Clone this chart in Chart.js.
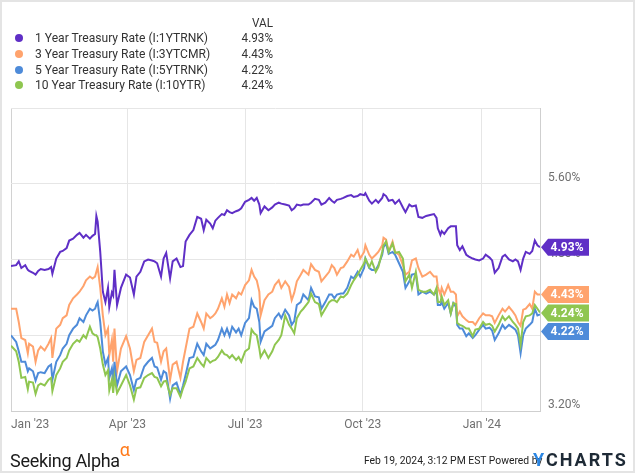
<!DOCTYPE html>
<html>
<head>
<meta charset="utf-8">
<style>
  html, body { margin: 0; padding: 0; background: #fff; }
  #page { position: relative; width: 635px; height: 473px; overflow: hidden; font-family: Roboto, "Noto Sans", sans-serif; }
  #chart { position: absolute; left: 0; top: 0; }
  #frame { position: absolute; left: 0; top: 0; width: 635px; height: 473px; box-sizing: border-box; border: 2px solid #e4e4e4; pointer-events: none; }
  .row { position: absolute; left: 0; height: 16px; line-height: 16px; font-size: 13px; color: #333; white-space: nowrap; }
  .dot { position: absolute; left: 15px; top: 4px; width: 8px; height: 8px; border-radius: 50%; }
  .name { position: absolute; left: 35px; transform: scaleX(0.93); transform-origin: left center; }
  .val { position: absolute; left: 203px; width: 70px; text-align: right; transform: scaleX(0.9); transform-origin: right center; }
  #sa { position: absolute; left: 10px; top: 443px; font-size: 18px; color: #1b1b1b; letter-spacing: -0.3px; white-space: nowrap; }
  #sa sup { color: #ff7a1a; font-size: 18px; position: relative; top: -4px; margin-left: 0px; }
  #stamp { position: absolute; left: 364px; top: 453px; font-size: 11.5px; color: #222; white-space: nowrap; transform: scaleX(0.9); transform-origin: left center; }
  #yc { position: absolute; left: 533px; top: 449px; font-size: 18px; font-weight: 700; letter-spacing: 2px; color: #1e2a36; white-space: nowrap; }
  #yc span { color: #2b86e3; }
</style>
</head>
<body>
<div id="page">
  <canvas id="chart" width="635" height="473"></canvas>
  <div id="legend"></div>
  <div id="sa">Seeking Alpha<sup>α</sup></div>
  <div id="stamp">Feb 19, 2024, 3:12 PM EST Powered by</div>
  <div id="yc"><span>Y</span>CHARTS</div>
  <div id="frame"></div>
</div>

<script src="https://cdn.jsdelivr.net/npm/chart.js@4.4.1/dist/chart.umd.min.js"></script>
<script>
  // x values are calendar days counted from Jan 3, 2023
  const days = [
    0, 4, 6, 8, 11, 13, 14, 17, 19, 21,
    23, 26, 29, 31, 32, 35, 38, 40, 43, 45,
    48, 51, 53, 56, 58, 61, 63, 65, 66, 67,
    69, 71, 73, 75, 76, 78, 79, 80, 82, 85,
    89, 92, 95, 97, 100, 103, 106, 109, 111, 113,
    116, 118, 120, 123, 125, 128, 131, 133, 135, 138,
    141, 144, 147, 149, 151, 154, 156, 158, 160, 163,
    165, 167, 169, 171, 174, 176, 178, 181, 184, 186,
    188, 190, 192, 193, 196, 199, 202, 204, 207, 209,
    212, 215, 217, 219, 221, 224, 226, 230, 232, 235,
    238, 240, 243, 246, 248, 250, 252, 255, 257, 260,
    263, 265, 268, 270, 273, 274, 277, 279, 282, 284,
    287, 288, 290, 292, 295, 297, 300, 303, 305, 308,
    310, 313, 315, 318, 321, 324, 327, 329, 330, 332,
    333, 335, 338, 340, 342, 344, 345, 347, 349, 352,
    354, 357, 359, 362, 365, 367, 370, 372, 374, 377,
    380, 382, 385, 388, 390, 392, 394, 396, 398, 401,
    403, 405, 407, 409
  ]

  const oneYear = [
    4.73, 4.74, 4.78, 4.71, 4.74, 4.69, 4.68, 4.66, 4.64, 4.68,
    4.70, 4.69, 4.70, 4.72, 4.65, 4.81, 4.88, 4.89, 4.92, 5.00,
    5.02, 5.06, 5.08, 5.03, 5.06, 5.02, 5.05, 5.07, 5.26, 5.20,
    4.88, 4.46, 4.35, 4.50, 4.30, 4.45, 4.42, 4.69, 4.32, 4.50,
    4.64, 4.61, 4.43, 4.62, 4.67, 4.78, 4.80, 4.79, 4.78, 4.76,
    4.62, 4.81, 4.87, 4.60, 4.78, 4.81, 4.72, 4.73, 4.99, 5.06,
    5.11, 5.25, 5.23, 5.11, 5.22, 5.18, 5.13, 5.21, 5.24, 5.28,
    5.27, 5.32, 5.30, 5.29, 5.31, 5.32, 5.34, 5.41, 5.43, 5.45,
    5.42, 5.45, 5.38, 5.29, 5.36, 5.32, 5.35, 5.38, 5.40, 5.39,
    5.38, 5.37, 5.32, 5.34, 5.38, 5.37, 5.38, 5.38, 5.40, 5.44,
    5.43, 5.38, 5.40, 5.45, 5.42, 5.40, 5.43, 5.44, 5.45, 5.47,
    5.48, 5.46, 5.47, 5.49, 5.48, 5.50, 5.42, 5.39, 5.43, 5.40,
    5.45, 5.49, 5.47, 5.42, 5.43, 5.39, 5.43, 5.35, 5.30, 5.38,
    5.36, 5.37, 5.25, 5.24, 5.26, 5.27, 5.28, 5.24, 5.13, 5.06,
    5.10, 5.07, 5.13, 5.15, 5.15, 5.15, 4.95, 4.90, 4.94, 4.85,
    4.83, 4.81, 4.80, 4.79, 4.81, 4.85, 4.82, 4.79, 4.66, 4.71,
    4.83, 4.85, 4.80, 4.78, 4.80, 4.78, 4.69, 4.81, 4.88, 4.86,
    4.89, 5.00, 4.95, 4.93
  ]

  const threeYear = [
    4.28, 4.28, 4.14, 3.97, 3.95, 3.81, 3.91, 3.88, 3.72, 3.84,
    3.88, 3.84, 3.91, 3.97, 3.76, 4.07, 4.11, 4.18, 4.21, 4.32,
    4.39, 4.43, 4.46, 4.52, 4.58, 4.62, 4.60, 4.62, 4.67, 4.72,
    4.50, 4.21, 4.00, 4.07, 3.79, 3.95, 3.72, 4.07, 3.62, 3.86,
    3.99, 3.86, 3.62, 3.74, 3.76, 3.93, 4.00, 4.07, 3.93, 3.92,
    3.72, 3.83, 3.86, 3.53, 3.69, 3.72, 3.55, 3.72, 3.86, 4.07,
    4.09, 4.23, 4.14, 4.07, 4.23, 4.18, 4.20, 4.23, 4.28, 4.39,
    4.30, 4.43, 4.34, 4.43, 4.39, 4.45, 4.43, 4.53, 4.58, 4.69,
    4.62, 4.58, 4.46, 4.21, 4.37, 4.43, 4.46, 4.53, 4.58, 4.50,
    4.57, 4.51, 4.37, 4.45, 4.57, 4.64, 4.69, 4.64, 4.75, 4.69,
    4.67, 4.57, 4.62, 4.67, 4.74, 4.71, 4.64, 4.71, 4.72, 4.78,
    4.85, 4.83, 4.90, 4.81, 4.88, 4.95, 4.85, 4.81, 4.85, 4.88,
    4.95, 5.03, 5.01, 4.88, 4.99, 4.88, 4.85, 4.74, 4.64, 4.67,
    4.79, 4.81, 4.71, 4.62, 4.64, 4.67, 4.62, 4.62, 4.51, 4.43,
    4.50, 4.43, 4.53, 4.46, 4.46, 4.43, 4.20, 4.25, 4.20, 4.16,
    4.14, 4.14, 4.11, 4.18, 4.23, 4.21, 4.21, 4.20, 4.13, 4.21,
    4.28, 4.25, 4.30, 4.25, 4.21, 4.14, 4.10, 4.27, 4.28, 4.33,
    4.28, 4.46, 4.43, 4.43
  ]

  const fiveYear = [
    4.00, 3.93, 3.83, 3.72, 3.72, 3.62, 3.65, 3.62, 3.52, 3.60,
    3.61, 3.60, 3.67, 3.69, 3.53, 3.72, 3.79, 3.86, 3.91, 4.00,
    4.07, 4.11, 4.18, 4.14, 4.21, 4.28, 4.26, 4.28, 4.32, 4.35,
    4.14, 3.83, 3.69, 3.76, 3.55, 3.65, 3.51, 3.72, 3.47, 3.62,
    3.67, 3.58, 3.42, 3.53, 3.55, 3.67, 3.72, 3.76, 3.67, 3.66,
    3.53, 3.62, 3.60, 3.33, 3.47, 3.50, 3.37, 3.47, 3.58, 3.76,
    3.77, 3.91, 3.83, 3.79, 3.91, 3.86, 3.88, 3.90, 3.95, 4.07,
    4.00, 4.07, 3.99, 4.09, 4.03, 4.07, 4.00, 4.13, 4.18, 4.37,
    4.30, 4.28, 4.14, 3.93, 4.04, 4.07, 4.10, 4.18, 4.23, 4.18,
    4.27, 4.21, 4.11, 4.15, 4.32, 4.35, 4.43, 4.37, 4.50, 4.41,
    4.40, 4.28, 4.35, 4.43, 4.43, 4.39, 4.43, 4.44, 4.44, 4.50,
    4.62, 4.60, 4.67, 4.62, 4.71, 4.81, 4.71, 4.69, 4.69, 4.74,
    4.85, 4.93, 4.97, 4.86, 4.88, 4.85, 4.76, 4.67, 4.50, 4.57,
    4.64, 4.65, 4.43, 4.46, 4.44, 4.46, 4.43, 4.46, 4.32, 4.32,
    4.35, 4.28, 4.34, 4.23, 4.34, 4.30, 4.11, 4.07, 4.07, 3.99,
    4.02, 3.97, 4.00, 4.06, 4.11, 4.07, 4.08, 4.05, 3.95, 4.02,
    4.11, 4.07, 4.11, 4.08, 4.06, 4.00, 3.81, 4.00, 4.07, 4.11,
    4.14, 4.28, 4.21, 4.22
  ]

  const tenYear = [
    3.89, 3.83, 3.72, 3.55, 3.56, 3.43, 3.51, 3.50, 3.38, 3.47,
    3.49, 3.47, 3.53, 3.55, 3.41, 3.58, 3.65, 3.72, 3.76, 3.84,
    3.91, 3.95, 3.93, 4.00, 3.97, 4.09, 4.02, 4.00, 4.00, 3.98,
    3.86, 3.69, 3.58, 3.63, 3.42, 3.53, 3.39, 3.56, 3.39, 3.47,
    3.58, 3.47, 3.32, 3.44, 3.45, 3.55, 3.58, 3.60, 3.56, 3.55,
    3.46, 3.51, 3.52, 3.37, 3.44, 3.44, 3.35, 3.44, 3.51, 3.65,
    3.67, 3.76, 3.70, 3.67, 3.76, 3.71, 3.73, 3.74, 3.77, 3.84,
    3.80, 3.79, 3.76, 3.79, 3.74, 3.77, 3.72, 3.83, 3.86, 4.06,
    4.02, 4.00, 3.86, 3.77, 3.84, 3.76, 3.83, 3.90, 3.95, 4.00,
    4.21, 4.11, 4.07, 4.02, 4.18, 4.25, 4.28, 4.35, 4.44, 4.35,
    4.33, 4.21, 4.28, 4.35, 4.37, 4.37, 4.35, 4.41, 4.40, 4.44,
    4.53, 4.58, 4.64, 4.69, 4.76, 4.81, 4.72, 4.78, 4.67, 4.72,
    4.88, 4.95, 4.99, 4.88, 4.97, 4.87, 4.88, 4.81, 4.57, 4.64,
    4.50, 4.67, 4.48, 4.46, 4.46, 4.48, 4.43, 4.50, 4.35, 4.35,
    4.41, 4.32, 4.37, 4.23, 4.34, 4.33, 4.13, 4.11, 4.10, 4.07,
    4.07, 3.99, 4.06, 4.07, 4.14, 4.11, 4.12, 4.10, 4.04, 4.11,
    4.20, 4.16, 4.20, 4.14, 4.11, 4.07, 3.90, 4.14, 4.20, 4.21,
    4.23, 4.32, 4.28, 4.24
  ]

  const seriesNames = [
    "1 Year Treasury Rate (I:1YTRNK)",
    "3 Year Treasury Rate (I:3YTCMR)",
    "5 Year Treasury Rate (I:5YTRNK)",
    "10 Year Treasury Rate (I:10YTR)"
  ]
  const seriesColors = ["#5f2fc6", "#ffa36d", "#4e8bd9", "#8fc650"]

  const tickDays = [0, 90, 181, 272, 364, 409]
  const tickLabels = ["Jan '23", "Apr '23", "Jul '23", "Oct '23", "Jan '24", ""]
  const yTicks = [3.2, 4.0, 4.8, 5.6, 6.4]

  const allSeries = [oneYear, threeYear, fiveYear, tenYear]

  // legend block with VAL column
  const legend = document.getElementById("legend")
  let head = document.createElement("div")
  head.className = "row"
  head.style.top = "15px"
  head.innerHTML = '<span class="val">VAL</span>'
  legend.appendChild(head)
  seriesNames.forEach((name, i) => {
    const row = document.createElement("div")
    row.className = "row"
    row.style.top = (30 + i * 15.8) + "px"
    const last = allSeries[i][allSeries[i].length - 1]
    row.innerHTML = '<span class="dot" style="background:' + seriesColors[i] + '"></span>' +
      '<span class="name">' + name + '</span>' +
      '<span class="val">' + last.toFixed(2) + '%</span>'
    legend.appendChild(row)
  })

  // coloured value tags at the right end of each line
  const valueTags = {
    id: "valueTags",
    afterDraw(chart) {
      const ctx = chart.ctx
      const yScale = chart.scales.y
      const right = chart.chartArea.right
      const tags = chart.data.datasets.map(ds => {
        const v = ds.data[ds.data.length - 1].y
        return { v: v, color: ds.borderColor, y: yScale.getPixelForValue(v) }
      })
      tags.sort((a, b) => a.y - b.y)
      for (let i = 1; i < tags.length; i++) {
        if (tags[i].y < tags[i - 1].y + 18.5) tags[i].y = tags[i - 1].y + 18.5
      }
      ctx.save()
      tags.forEach(t => {
        ctx.beginPath()
        ctx.moveTo(right + 1, t.y)
        ctx.lineTo(right + 8, t.y - 8.5)
        ctx.lineTo(right + 49, t.y - 8.5)
        ctx.lineTo(right + 49, t.y + 8.5)
        ctx.lineTo(right + 8, t.y + 8.5)
        ctx.closePath()
        ctx.fillStyle = t.color
        ctx.fill()
        ctx.fillStyle = "#fff"
        ctx.font = "bold 12px Roboto"
        ctx.textAlign = "center"
        ctx.textBaseline = "middle"
        ctx.fillText(t.v.toFixed(2) + "%", right + 27, t.y + 0.5)
      })
      ctx.restore()
    }
  }

  const datasets = seriesNames.map((name, i) => ({
    label: name,
    data: days.map((d, j) => ({ x: d, y: allSeries[i][j] })),
    borderColor: seriesColors[i],
    backgroundColor: seriesColors[i],
    borderWidth: 2,
    pointRadius: 0,
    tension: 0,
    order: 3 - i
  }))

  const ctx = document.getElementById("chart").getContext("2d")
  new Chart(ctx, {
    type: "line",
    data: { datasets: datasets },
    plugins: [valueTags],
    options: {
      responsive: false,
      animation: false,
      layout: { padding: { left: 11, top: 108, right: 0, bottom: 0 } },
      plugins: { legend: { display: false }, tooltip: { enabled: false } },
      scales: {
        x: {
          type: "linear",
          min: 0,
          max: 409,
          afterBuildTicks: scale => { scale.ticks = tickDays.map(v => ({ value: v })) },
          afterFit: scale => { scale.height = 62 },
          grid: {
            drawTicks: false,
            color: c => (c.tick && c.tick.value === 0) ? "#d2d2d2" : "#e6e6e6"
          },
          border: { display: true, color: "#cfcfcf" },
          ticks: {
            align: "inner",
            autoSkip: false,
            maxRotation: 0,
            padding: 7,
            color: "#707070",
            font: { family: "Roboto", size: 12 },
            callback: v => {
              const i = tickDays.indexOf(v)
              return i >= 0 ? tickLabels[i] : ""
            }
          }
        },
        y: {
          position: "right",
          min: 3.2,
          max: 6.4,
          afterBuildTicks: scale => { scale.ticks = yTicks.map(v => ({ value: v })) },
          afterFit: scale => { scale.width = 95 },
          grid: { drawTicks: false, color: "#e6e6e6" },
          border: { display: true, color: "#cfcfcf" },
          ticks: {
            padding: 8,
            labelOffset: -6,
            color: "#707070",
            font: { family: "Roboto", size: 12 },
            callback: v => v >= 6.4 ? "" : v.toFixed(2) + "%"
          }
        }
      }
    }
  })
</script>
</body>
</html>
